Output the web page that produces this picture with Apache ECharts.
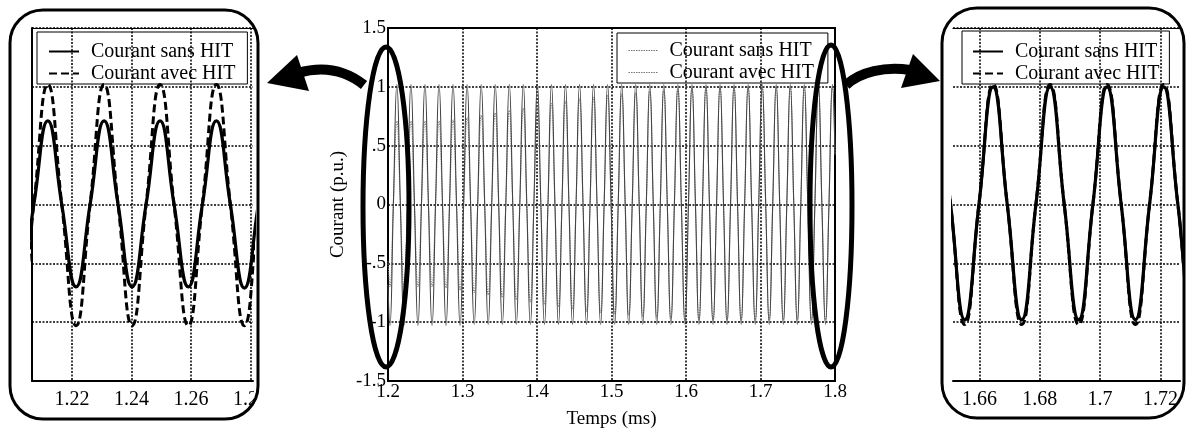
<!DOCTYPE html>
<html>
<head>
<meta charset="utf-8">
<script src="https://cdn.jsdelivr.net/npm/echarts@6/dist/echarts.min.js"></script>
<style>
  html, body { margin: 0; padding: 0; background: #fff; }
  #chart { width: 1188px; height: 430px; }
</style>
</head>
<body>
<div id="chart"></div>
<script>
// Time (ms): start, then for each cycle trough, zero-up, peak, zero-down
const t = [
  1.2000,
  1.2025,1.2072,1.2119,1.2166, 1.2214,1.2261,1.2308,1.2355, 1.2402,1.2449,1.2496,1.2543,
  1.2591,1.2638,1.2685,1.2732, 1.2779,1.2826,1.2873,1.2920, 1.2968,1.3015,1.3062,1.3109,
  1.3157,1.3204,1.3251,1.3298, 1.3345,1.3392,1.3439,1.3486, 1.3534,1.3581,1.3628,1.3675,
  1.3722,1.3769,1.3816,1.3863, 1.3911,1.3958,1.4005,1.4052, 1.4100,1.4147,1.4194,1.4241,
  1.4288,1.4335,1.4382,1.4429, 1.4477,1.4524,1.4571,1.4618, 1.4665,1.4712,1.4759,1.4806,
  1.4854,1.4901,1.4948,1.4995, 1.5043,1.5090,1.5137,1.5184, 1.5231,1.5278,1.5325,1.5372,
  1.5420,1.5467,1.5514,1.5561, 1.5608,1.5655,1.5702,1.5749, 1.5797,1.5844,1.5891,1.5938,
  1.5986,1.6033,1.6080,1.6127, 1.6174,1.6221,1.6268,1.6315, 1.6363,1.6410,1.6457,1.6504,
  1.6551,1.6598,1.6645,1.6692, 1.6740,1.6787,1.6834,1.6881, 1.6929,1.6976,1.7023,1.7070,
  1.7117,1.7164,1.7211,1.7258, 1.7306,1.7353,1.7400,1.7447, 1.7494,1.7541,1.7588,1.7635,
  1.7683,1.7730,1.7777,1.7824, 1.7872,1.7919,1.7966,1.8000
];
// Courant sans HIT (p.u.)
const sansHIT = [
  -0.48,
  -0.70,0,0.71,0, -0.70,0,0.71,0, -0.70,0,0.71,0,
  -0.70,0,0.71,0, -0.71,0,0.72,0, -0.73,0,0.74,0,
  -0.75,0,0.76,0, -0.77,0,0.78,0, -0.79,0,0.80,0,
  -0.81,0,0.82,0, -0.83,0,0.84,0, -0.85,0,0.86,0,
  -0.87,0,0.88,0, -0.89,0,0.90,0, -0.91,0,0.91,0,
  -0.92,0,0.93,0, -0.93,0,0.94,0, -0.94,0,0.95,0,
  -0.95,0,0.96,0, -0.96,0,0.97,0, -0.97,0,0.98,0,
  -0.98,0,0.99,0, -0.98,0,1.00,0, -0.98,0,1.00,0,
  -0.98,0,1.00,0, -0.98,0,1.00,0, -0.98,0,1.00,0,
  -0.98,0,1.00,0, -0.98,0,1.00,0, -0.98,0,1.00,0,
  -0.98,0,1.00,0, -0.98,0,1.00,0.42
];
// Courant avec HIT (p.u.)
const avecHIT = [
  -0.68,
  -1.03,0,1.02,0, -1.03,0,1.02,0, -1.03,0,1.02,0,
  -1.03,0,1.02,0, -1.03,0,1.02,0, -1.03,0,1.02,0,
  -1.02,0,1.02,0, -1.02,0,1.02,0, -1.02,0,1.02,0,
  -1.02,0,1.02,0, -1.02,0,1.02,0, -1.02,0,1.02,0,
  -1.02,0,1.02,0, -1.02,0,1.02,0, -1.02,0,1.02,0,
  -1.02,0,1.02,0, -1.02,0,1.02,0, -1.02,0,1.02,0,
  -1.02,0,1.02,0, -1.02,0,1.02,0, -1.02,0,1.02,0,
  -1.02,0,1.02,0, -1.02,0,1.02,0, -1.02,0,1.02,0,
  -1.02,0,1.02,0, -1.02,0,1.02,0, -1.02,0,1.02,0,
  -1.02,0,1.02,0, -1.02,0,1.02,0, -1.02,0,1.02,0,
  -1.02,0,1.02,0, -1.02,0,1.02,0.43
];
const centerXTicks = [1.2, 1.3, 1.4, 1.5, 1.6, 1.7, 1.8];
const yTicks = [-1.5, -1, -0.5, 0, 0.5, 1, 1.5];
const leftZoomTicks = [1.22, 1.24, 1.26, 1.28];
const rightZoomTicks = [1.66, 1.68, 1.70, 1.72];
const leftZoomRange = [1.2066, 1.2808];
const rightZoomRange = [1.6512, 1.7265];
const nameSans = 'Courant sans HIT';
const nameAvec = 'Courant avec HIT';
const xName = 'Temps (ms)';
const yName = 'Courant (p.u.)';

const sansData = t.map((x, i) => [x, sansHIT[i]]);
const avecData = t.map((x, i) => [x, avecHIT[i]]);

const FONT = 'Liberation Serif';
const gridLine = { show: true, lineStyle: { color: '#000', width: 1.5, type: [2, 1.5] } };
const noGridLine = { show: false };

function sideX(grid, range, ticks, fmt) {
  return [{
    type: 'value', gridIndex: grid, min: range[0], max: range[1],
    axisLine: { show: true, onZero: false, lineStyle: { color: '#000', width: 2 } },
    axisTick: { show: false, customValues: ticks },
    axisLabel: { customValues: ticks, formatter: fmt, color: '#000', fontFamily: FONT, fontSize: 20, margin: 9 },
    splitLine: gridLine
  }, {
    type: 'value', gridIndex: grid, position: 'top', min: range[0], max: range[1],
    axisLine: { show: true, onZero: false, lineStyle: { color: '#000', width: 1.2 } },
    axisTick: { show: false }, axisLabel: { show: false }, splitLine: noGridLine
  }];
}

const leftX = sideX(1, leftZoomRange, leftZoomTicks, v => (+v).toFixed(2));
const rightX = sideX(2, rightZoomRange, rightZoomTicks, v => String(+(+v).toFixed(2)));

function legendFor(names, left, top, pad, textPad) {
  return {
    orient: 'vertical', left: left, top: top, padding: pad,
    itemGap: 1, itemWidth: 30, itemHeight: 14,
    borderColor: '#000', borderWidth: 1, borderRadius: 0,
    selectedMode: false, data: names,
    itemStyle: { color: 'transparent', borderWidth: 0, opacity: 0 },
    formatter: n => n.trim(),
    textStyle: { color: '#000', fontFamily: FONT, fontSize: 20, lineHeight: 21, padding: [0, 0, 0, textPad] }
  };
}

const centerLegend = legendFor([nameSans + ' ', nameAvec + ' '], 617, 33, [7, 14, 0, 11], 6);
centerLegend.lineStyle = { color: '#777', width: 1, type: [1.5, 1] };

const chart = echarts.init(document.getElementById('chart'), null, { renderer: 'canvas' });
chart.setOption({
  animation: false,
  backgroundColor: '#fff',
  grid: [
    { left: 388, top: 28, width: 447, height: 353, show: true, borderColor: '#000', borderWidth: 2, outerBoundsMode: 'none', containLabel: false },
    { left: 32, top: 28, width: 221, height: 353, outerBoundsMode: 'none', containLabel: false },
    { left: 953, top: 28, width: 227, height: 353, outerBoundsMode: 'none', containLabel: false }
  ],
  xAxis: [
    {
      type: 'value', gridIndex: 0, min: centerXTicks[0], max: centerXTicks[centerXTicks.length - 1], interval: 0.1,
      axisLine: { show: true, onZero: false, lineStyle: { color: '#000', width: 2 } },
      axisTick: { show: false },
      axisLabel: { color: '#000', fontFamily: FONT, fontSize: 19, margin: 2, formatter: v => (+v).toFixed(1) },
      splitLine: gridLine,
      name: xName, nameLocation: 'middle', nameGap: 29,
      nameTextStyle: { color: '#000', fontFamily: FONT, fontSize: 19 }
    },
    leftX[0], leftX[1], rightX[0], rightX[1]
  ],
  yAxis: [
    {
      type: 'value', gridIndex: 0, min: yTicks[0], max: yTicks[yTicks.length - 1], interval: 0.5,
      axisLine: { show: true, onZero: false, lineStyle: { color: '#000', width: 2 } },
      axisTick: { show: false },
      axisLabel: { color: '#000', fontFamily: FONT, fontSize: 19, margin: 2, formatter: v => String(v).replace('0.', '.') },
      splitLine: gridLine,
      name: yName, nameLocation: 'middle', nameGap: 40, nameRotate: 90,
      nameTextStyle: { color: '#000', fontFamily: FONT, fontSize: 19 }
    },
    {
      type: 'value', gridIndex: 1, min: yTicks[0], max: yTicks[yTicks.length - 1], interval: 0.5,
      axisLine: { show: true, onZero: false, lineStyle: { color: '#000', width: 2 } },
      axisTick: { show: false }, axisLabel: { show: false }, splitLine: gridLine
    },
    {
      type: 'value', gridIndex: 2, min: yTicks[0], max: yTicks[yTicks.length - 1], interval: 0.5,
      axisLine: { show: false }, axisTick: { show: false }, axisLabel: { show: false }, splitLine: gridLine
    }
  ],
  legend: [
    centerLegend,
    legendFor([nameSans, nameAvec], 37, 32, [9, 12, 0, 11], 7),
    legendFor([nameSans + '  ', nameAvec + '  '], 962, 31, [10, 10, 0, 10], 7)
  ],
  series: [
    { name: nameSans + ' ', type: 'line', xAxisIndex: 0, yAxisIndex: 0, data: sansData, smooth: 0.5, symbol: 'none',
      itemStyle: { color: '#000' },
      lineStyle: { color: '#777', width: 1, type: [1.5, 1] }, z: 3 },
    { name: nameAvec + ' ', type: 'line', xAxisIndex: 0, yAxisIndex: 0, data: avecData, smooth: 0.5, symbol: 'none',
      itemStyle: { color: '#000' },
      lineStyle: { color: '#444', width: 1.1 }, z: 3 },
    { name: nameSans, type: 'line', xAxisIndex: 1, yAxisIndex: 1, data: sansData, smooth: 0.5, symbol: 'none',
      itemStyle: { color: '#000' },
      lineStyle: { color: '#000', width: 3.2 }, z: 3 },
    { name: nameAvec, type: 'line', xAxisIndex: 1, yAxisIndex: 1, data: avecData, smooth: 0.5, symbol: 'none',
      itemStyle: { color: '#000' },
      lineStyle: { color: '#000', width: 3, type: [8, 4] }, z: 4 },
    { name: nameSans + '  ', type: 'line', xAxisIndex: 3, yAxisIndex: 2, data: sansData, smooth: 0.5, symbol: 'none',
      itemStyle: { color: '#000' },
      lineStyle: { color: '#000', width: 3.2 }, z: 3 },
    { name: nameAvec + '  ', type: 'line', xAxisIndex: 3, yAxisIndex: 2, data: avecData, smooth: 0.5, symbol: 'none',
      itemStyle: { color: '#000' },
      lineStyle: { color: '#000', width: 3, type: [8, 4] }, z: 4 }
  ],
  graphic: { elements: [
    { type: 'rect', z: 100, shape: { x: 254, y: 384, width: 20, height: 30 }, style: { fill: '#fff' } },
    { type: 'rect', z: 101, shape: { x: 10, y: 10, width: 248, height: 409, r: 33 }, style: { fill: 'none', stroke: '#000', lineWidth: 3 } },
    { type: 'rect', z: 101, shape: { x: 942, y: 8, width: 242, height: 410, r: 35 }, style: { fill: 'none', stroke: '#000', lineWidth: 3 } },
    { type: 'ellipse', z: 101, shape: { cx: 386, cy: 207, rx: 23, ry: 160 }, style: { fill: 'none', stroke: '#000', lineWidth: 5 } },
    { type: 'ellipse', z: 101, shape: { cx: 831, cy: 206, rx: 21, ry: 161 }, style: { fill: 'none', stroke: '#000', lineWidth: 5 } },
    { type: 'bezierCurve', z: 101, shape: { x1: 364, y1: 85, cpx1: 345, cpy1: 70, cpx2: 322, cpy2: 66, x2: 298, y2: 73 }, style: { fill: 'none', stroke: '#000', lineWidth: 10 } },
    { type: 'polygon', z: 101, shape: { points: [[297, 55], [267, 83], [309, 91]] }, style: { fill: '#000' } },
    { type: 'bezierCurve', z: 101, shape: { x1: 846, y1: 85, cpx1: 860, cpy1: 72, cpx2: 885, cpy2: 66, x2: 910, y2: 70 }, style: { fill: 'none', stroke: '#000', lineWidth: 10 } },
    { type: 'polygon', z: 101, shape: { points: [[913, 54], [940, 81], [901, 88]] }, style: { fill: '#000' } }
  ] }
});
</script>
</body>
</html>
